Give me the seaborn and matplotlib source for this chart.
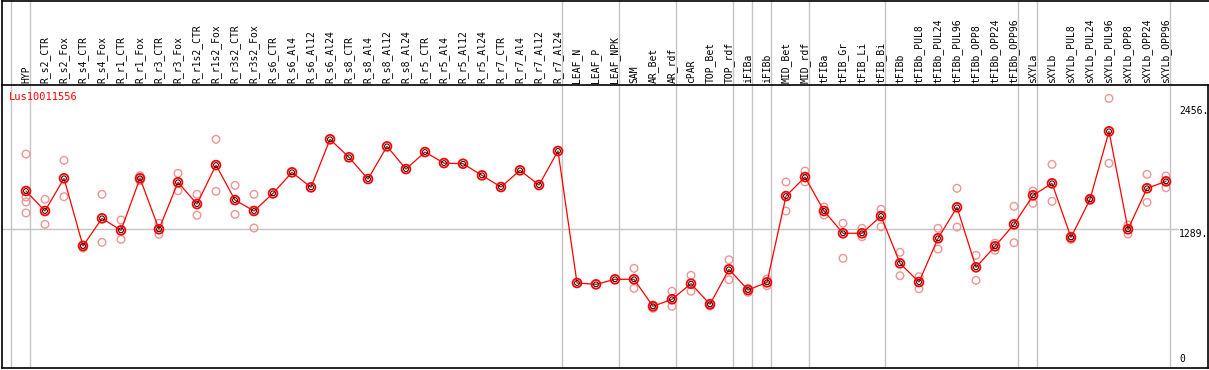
import numpy as np
import pandas as pd
import matplotlib
matplotlib.use("Agg")
import matplotlib.pyplot as plt
import seaborn as sns

# ---------------- data ----------------
categories = [
    "HYP", "R_s2_CTR", "R_s2_Fox", "R_s4_CTR", "R_s4_Fox", "R_r1_CTR", "R_r1_Fox",
    "R_r3_CTR", "R_r3_Fox", "R_r1s2_CTR", "R_r1s2_Fox", "R_r3s2_CTR", "R_r3s2_Fox",
    "R_s6_CTR", "R_s6_Al4", "R_s6_Al12", "R_s6_Al24", "R_s8_CTR", "R_s8_Al4",
    "R_s8_Al12", "R_s8_Al24", "R_r5_CTR", "R_r5_Al4", "R_r5_Al12", "R_r5_Al24",
    "R_r7_CTR", "R_r7_Al4", "R_r7_Al12", "R_r7_Al24", "LEAF_N", "LEAF_P", "LEAF_NPK",
    "SAM", "AR_Bet", "AR_rdf", "cPAR", "TOP_Bet", "TOP_rdf", "iFIBa", "iFIBb",
    "MID_Bet", "MID_rdf", "tFIBa", "tFIB_Gr", "tFIB_Li", "tFIB_Bi", "tFIBb",
    "tFIBb_PUL8", "tFIBb_PUL24", "tFIBb_PUL96", "tFIBb_OPP8", "tFIBb_OPP24",
    "tFIBb_OPP96", "sXYLa", "sXYLb", "sXYLb_PUL8", "sXYLb_PUL24", "sXYLb_PUL96",
    "sXYLb_OPP8", "sXYLb_OPP24", "sXYLb_OPP96",
]

means = [
    1648, 1458, 1769, 1125, 1388, 1274, 1769, 1284, 1731, 1524, 1895, 1562, 1458,
    1626, 1826, 1683, 2140, 1969, 1762, 2073, 1857, 2019, 1914, 1908, 1797,
    1686, 1845, 1705, 2029, 773, 760, 808,
    808, 551, 618, 766, 570, 903, 706, 779,
    1600, 1781, 1458, 1246, 1246, 1410, 960,
    782, 1198, 1493, 922, 1122,
    1331, 1607, 1721, 1207, 1569, 2216,
    1284, 1674, 1740,
]

N = None
rep_a = [
    2000, 1569, 1940, 1134, 1617, 1372, 1794, 1341, 1816, 1617, 2140, 1702, 1617,
    N, N, N, N, N, N, N, N, N, N, N, N, N, N, N, N, N, N, N,
    912, 563, 694, 846, 579, 994, 722, 811,
    1734, 1838, 1496, 1341, 1293, 1474, 1065,
    833, 1293, 1674, 1036, 1153,
    1502, 1648, 1902, 1220, 1579, 2530,
    1324, 1807, 1791,
]
rep_b = [
    1543, 1331, 1594, 1106, 1160, 1188, 1746, 1236, 1651, 1417, 1645, 1426, 1296,
    N, N, N, N, N, N, N, N, N, N, N, N, N, N, N, N, N, N, N,
    722, 532, 551, 694, 554, 804, 684, 747,
    1458, 1734, 1420, 1008, 1213, 1308, 842,
    718, 1096, 1305, 798, 1084,
    1156, 1531, 1550, 1188, 1560, 1912,
    1239, 1540, 1679,
]
extra_cat = ["HYP", "HYP"]
extra_val = [1591, 1439]

# last category index of each group (gridlines drawn just right of them)
group_ends = [-1, 0, 28, 31, 34, 37, 38, 39, 41, 45, 52, 53, 60]

y_ticks = [0, 1289, 2456]
y_tick_labels = ["0", "1289.", "2456."]
title = "Lus10011556"

# ---------------- tables ----------------
pos_of = {c: i for i, c in enumerate(categories)}
df_mean = pd.DataFrame({"pos": np.arange(len(categories)), "val": means})
rep_rows = []
for reps in (rep_a, rep_b):
    for c, v in zip(categories, reps):
        if v is not None:
            rep_rows.append((pos_of[c], v))
for c, v in zip(extra_cat, extra_val):
    rep_rows.append((pos_of[c], v))
df_rep = pd.DataFrame(rep_rows, columns=["pos", "val"])

# ---------------- figure ----------------
sns.set_theme(style="white")
plt.rcParams["font.family"] = ["DejaVu Sans Mono", "DejaVu Sans"]

W, H = 1209, 370
fig = plt.figure(figsize=(W / 100, H / 100), dpi=100)
ax = fig.add_axes([2 / W, 2 / H, 1206 / W, 283 / H])
hdr = fig.add_axes([2 / W, 285 / H, 1206.5 / W, 84.5 / H])
hdr.set_facecolor("none")
hdr.set_xticks([])
hdr.set_yticks([])
for s in ("right", "bottom"):
    hdr.spines[s].set_visible(False)
for s in ("top", "left"):
    hdr.spines[s].set_color("black")
    hdr.spines[s].set_linewidth(1.2)

grid_c = "#C4C4C4"
ax.set_xlim(-1.263, 62.21)
ax.set_ylim(-36, 2657)

ax.axhline(1289, xmin=0, xmax=0.975, color=grid_c, lw=1.0, zorder=0)
for g in group_ends:
    ax.axvline(g + 0.23, ymin=0, ymax=368 / 283, clip_on=False,
               color=grid_c, lw=1.0, zorder=0)

sns.scatterplot(data=df_rep, x="pos", y="val", ax=ax, marker="o", s=30,
                facecolor="none", edgecolor="#F09494", linewidth=1.0, zorder=2,
                legend=False)
sns.lineplot(data=df_mean, x="pos", y="val", ax=ax, color="#FF0000",
             lw=0.9, zorder=3, legend=False)
sns.scatterplot(data=df_mean, x="pos", y="val", ax=ax, marker="o", s=40,
                facecolor="none", edgecolor="#FF0000", linewidth=1.3, zorder=4,
                legend=False)
sns.scatterplot(data=df_mean, x="pos", y="val", ax=ax, marker="o", s=12,
                facecolor="none", edgecolor="#000000", linewidth=0.7, zorder=5,
                legend=False)

ax.set_xlabel("")
ax.set_ylabel("")

ax.xaxis.tick_top()
ax.set_xticks(np.arange(len(categories)))
ax.set_xticklabels(categories, rotation=90, fontsize=7)
ax.tick_params(axis="x", length=0, pad=1.8, colors="black")

ax.yaxis.tick_right()
ax.set_yticks(y_ticks)
ax.set_yticklabels(y_tick_labels, fontsize=7)
ax.tick_params(axis="y", length=0, pad=-20.9, colors="black")
for lbl, v in zip(ax.get_yticklabels(), y_ticks):
    lbl.set_va("bottom" if v == 0 else "top")

for s in ax.spines.values():
    s.set_color("black")
    s.set_linewidth(1.2)

ax.text((9.3 - 2) / 1206, (368 - 92) / 283, title, transform=ax.transAxes,
        color="#FF0000", fontsize=7.5, ha="left", va="top")

fig.savefig("out.png", dpi=100)
